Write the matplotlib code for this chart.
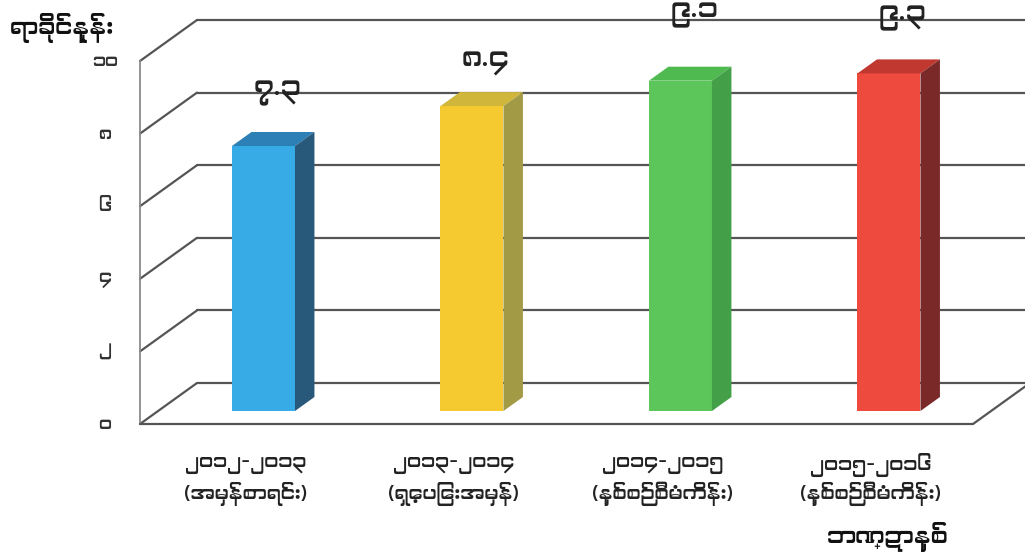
import numpy as np
import matplotlib
matplotlib.use('Agg')
import matplotlib.pyplot as plt
from matplotlib import font_manager
from matplotlib.ft2font import FT2Font
from matplotlib.patches import Polygon

# ---- data -------------------------------------------------------------
years = ['၂၀၁၂-၂၀၁၃', '၂၀၁၃-၂၀၁၄', '၂၀၁၄-၂၀၁၅', '၂၀၁၅-၂၀၁၆']
kinds = ['(အမှန်စာရင်း)', '(ရှေ့ပြေးအမှန်)', '(နှစ်စဉ်စီမံကိန်း)', '(နှစ်စဉ်စီမံကိန်း)']
growth = [7.3, 8.4, 9.1, 9.3]
y_ticks = [0, 2, 4, 6, 8, 10]
y_label = 'ရာခိုင်နှုန်း'
x_label = 'ဘဏ္ဍာနှစ်'

front_colors = ['#36abe6', '#f5c930', '#5cc65a', '#ee4a3e']
side_colors = ['#28587a', '#a39a45', '#43a048', '#7a2828']
top_colors = ['#2d80b6', '#d0b63a', '#4fba4f', '#c0382f']
label_lift = [1.46, 1.2, 1.8, 1.53]   # hand placed value labels

MM_DIGITS = str.maketrans('0123456789', '၀၁၂၃၄၅၆၇၈၉')


def mm(s):
    return str(s).translate(MM_DIGITS)


def find_myanmar_font():
    for f in font_manager.fontManager.ttflist:
        if any(k in f.name for k in ('Myanmar', 'Padauk', 'Pyidaungsu')):
            return f.name
    for f in font_manager.fontManager.ttflist:
        try:
            if 0x1000 in FT2Font(f.fname).get_charmap():
                return f.name
        except Exception:
            pass
    return None


mm_font = find_myanmar_font()
families = [mm_font, 'DejaVu Sans'] if mm_font else ['Noto Sans', 'DejaVu Sans']
plt.rcParams['font.family'] = families

# ---- geometry (pixels of the 1025x560 picture) ------------------------
W, H = 1025, 560
PX_CAT, PX_VAL = 208.5, 36.3          # pixels per category / per unit
OX, OY = 245.4, 424                   # category 0, value 0 on the front plane
DX, DY = 57 / PX_CAT, 41 / PX_VAL     # full depth of the box
XL, XR = (140 - OX) / PX_CAT, (973 - OX) / PX_CAT
BAR_D0, BAR_DD = 13 / 41, 14 / 41     # bar position / thickness in depth
BAR_W = 63 / PX_CAT


def proj(x, y, d):
    return x + d * DX, y + d * DY


fig = plt.figure(figsize=(W / 100, H / 100), dpi=100)
ax = fig.add_axes([0, 0, 1, 1])
ax.set_xlim(-OX / PX_CAT, (W - OX) / PX_CAT)
ax.set_ylim(-(H - OY) / PX_VAL, OY / PX_VAL)
ax.axis('off')

grid_kw = dict(color='#555555', lw=1.6, zorder=1, solid_capstyle='round')

# back wall + left wall lines
for t in y_ticks:
    (x0, y0), (x1, y1) = proj(XL, t, 1), proj(XR, t, 1)
    ax.plot([x0, x1], [y0, y1], **grid_kw)
    (x0, y0), (x1, y1) = proj(XL, t, 0), proj(XL, t, 1)
    ax.plot([x0, x1], [y0, y1], **grid_kw)
    ax.text((105 - OX) / PX_CAT, t, mm(t), ha='center', va='center',
            fontsize=13, fontweight='light', color='#333333')

# front edge of left wall and floor
ax.plot([XL, XL], [0, y_ticks[-1]], color='#8a8a8a', lw=1.3, zorder=1)
ax.plot([XL, XR], [0, 0], **grid_kw)
(x0, y0), (x1, y1) = proj(XR, 0, 0), proj(XR, 0, 1)
ax.plot([x0, x1], [y0, y1], **grid_kw)

# bars
xs = np.arange(len(growth))
bx, by = proj(xs, np.zeros(len(growth)), BAR_D0)
ax.bar(bx, growth, bottom=by, width=BAR_W, color=front_colors, zorder=3,
       linewidth=0)
ddx, ddy = BAR_DD * DX, BAR_DD * DY
for i, v in enumerate(growth):
    l, r = bx[i] - BAR_W / 2, bx[i] + BAR_W / 2
    b, t = by[i], by[i] + v
    ax.add_patch(Polygon([(l, t), (r, t), (r + ddx, t + ddy), (l + ddx, t + ddy)],
                         closed=True, color=top_colors[i], lw=0, zorder=3))
    ax.add_patch(Polygon([(r, b), (r, t), (r + ddx, t + ddy), (r + ddx, b + ddy)],
                         closed=True, color=side_colors[i], lw=0, zorder=3))
    ax.text(bx[i] + 14 / PX_CAT, t + label_lift[i], mm(f'{v:.1f}'),
            ha='center', va='center', fontsize=20, fontweight='light',
            color='#222222', zorder=4)

# category labels
for i in xs:
    ax.text(i, (OY - 465) / PX_VAL, years[i], ha='center', va='center',
            fontsize=14, fontweight='light', color='#222222')
    ax.text(i, (OY - 494) / PX_VAL, kinds[i], ha='center', va='center',
            fontsize=14, fontweight='light', color='#222222')

fig.text(62 / W, 1 - 28 / H, y_label, ha='center', va='center',
         fontsize=17, fontweight='bold', color='#111111')
fig.text(888 / W, 1 - 537 / H, x_label, ha='center', va='center',
         fontsize=17, fontweight='bold', color='#111111')

plt.savefig('out.png', dpi=100)
plt.close()
